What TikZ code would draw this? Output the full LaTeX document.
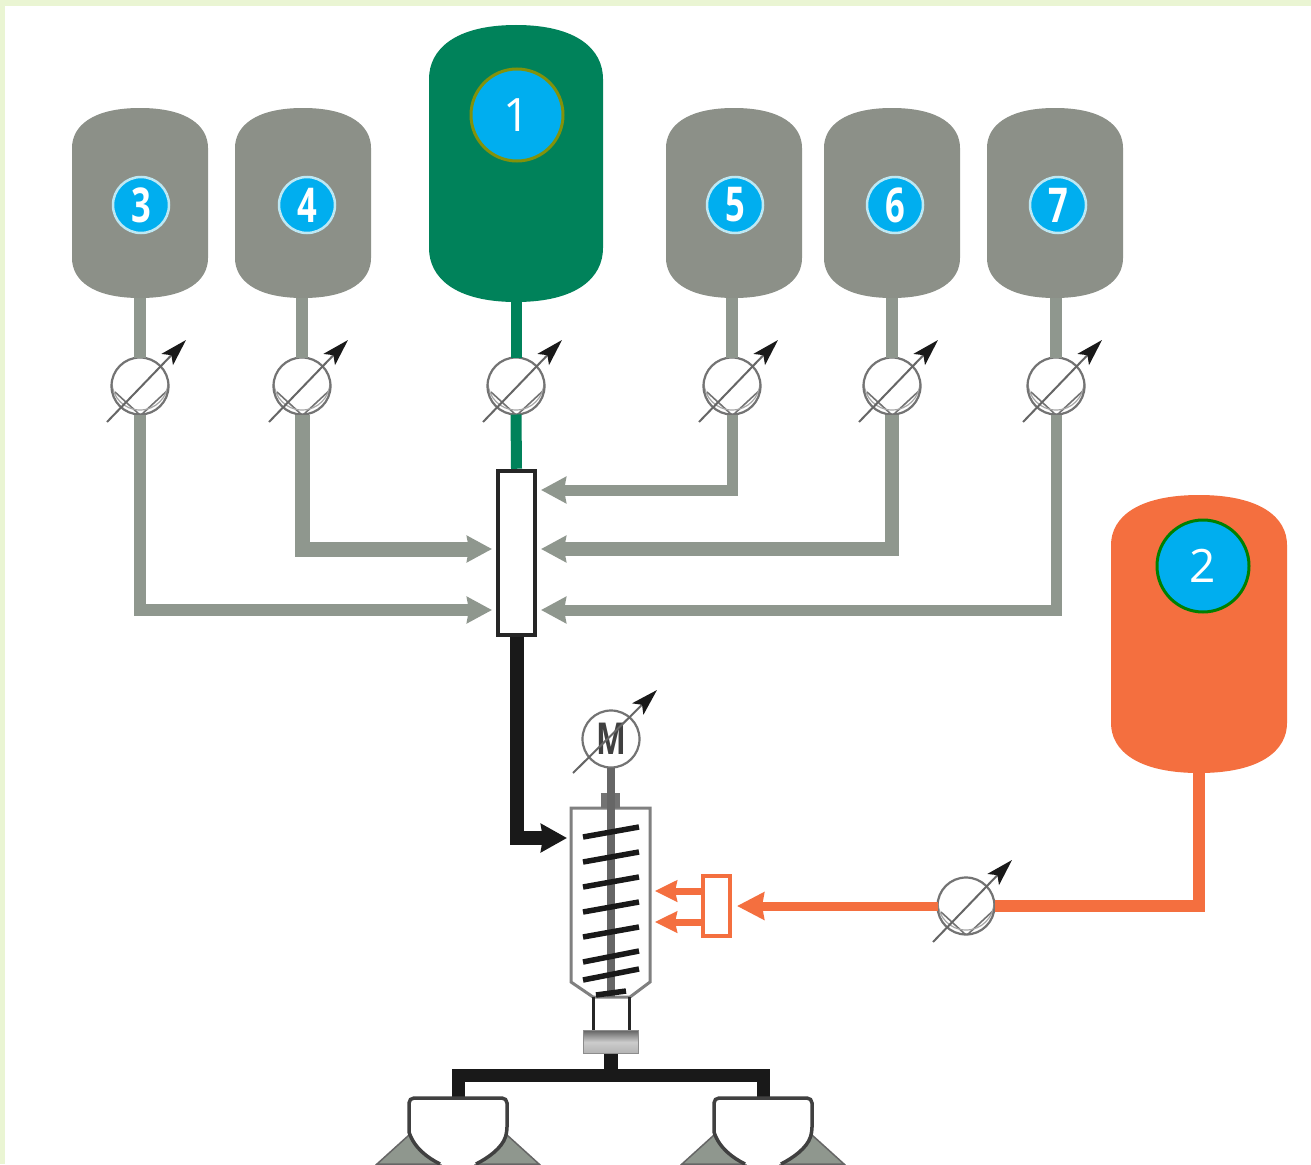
\documentclass[tikz,border=0pt]{standalone}
\usepackage{fontspec}
\setmainfont{Open Sans}
\usepackage{tikz}
\usetikzlibrary{arrows.meta,fit,positioning}
\definecolor{tankgray}{HTML}{8C9088}
\definecolor{pipegray}{HTML}{8F978E}
\definecolor{tankgreen}{HTML}{00825A}
\definecolor{tankorange}{HTML}{F46F3F}
\definecolor{badgeblue}{HTML}{00AEEF}
\definecolor{badgering}{HTML}{BDE8F4}
\definecolor{framegreen}{HTML}{EAF5D3}
\tikzset{
    %Define style for meters
    meter/.style={
           circle,
           draw=black!55, line width=2.2pt,
           fill=white,
           inner sep=0pt,
           outer sep=0pt,
           minimum size=57pt},
    valve/.style={
           meter,
           path picture={
             \draw[black!55, line width=1.6pt]
               ([shift={(1,29)}]path picture bounding box.center) -- ([shift={(29,3)}]path picture bounding box.center)
               ([shift={(-25,6)}]path picture bounding box.center) -- ([shift={(0,29)}]path picture bounding box.center);
             \draw[black!35, line width=1.2pt]
               ([shift={(0,-4)}]path picture bounding box.center) circle[radius=28];
           }},
    needle/.style={
           black!60, line width=2pt,
           -{Stealth[black!90,length=27pt,width=16pt,inset=6pt]}},
    % small badges on the grey tanks
    badge/.style={
           circle,
           draw=badgering, line width=2.5pt,
           fill=badgeblue,
           text=white,
           inner sep=0pt,
           minimum size=56pt,
           font=\fontsize{48}{48}\selectfont\bfseries},
    bigbadge/.style={
           circle,
           line width=3pt,
           fill=badgeblue,
           text=white,
           inner sep=0pt,
           minimum size=92pt,
           font=\fontsize{46}{46}\selectfont},
    % Define pipe styles
    pipe/.style={
           pipegray, line width=#1,
           -{Stealth[length=25pt,width=26pt,inset=2pt]}},
    riser/.style={line width=12pt},
    blade/.style={black!90, line width=5.5pt},
    collector/.style={
           rectangle,
           draw=black!85, line width=4.5pt,
           fill=white,
           inner sep=0pt,
           minimum width=37pt,
           minimum height=164pt},
    dose/.style={
           rectangle,
           draw=tankorange, line width=4pt,
           fill=white,
           inner sep=0pt,
           minimum width=27pt,
           minimum height=60pt}
}
%tank: name, centre x, top, bottom, half width, dome, colour
\newcommand{\tank}[7]{
  \fill[#7] (#2-#5,#3+#6) .. controls (#2-#5,#3+#6*0.45) and (#2-#5*0.7,#3) .. (#2,#3)
     .. controls (#2+#5*0.7,#3) and (#2+#5,#3+#6*0.45) .. (#2+#5,#3+#6)
     -- (#2+#5,#4-#6) .. controls (#2+#5,#4-#6*0.45) and (#2+#5*0.7,#4) .. (#2,#4)
     .. controls (#2-#5*0.7,#4) and (#2-#5,#4-#6*0.45) .. (#2-#5,#4-#6) -- cycle;
  \node[fit={(#2-#5,#3)(#2+#5,#4)},inner sep=0pt,outer sep=0pt](#1){};
}
%valve: name, x, y
\newcommand{\valvesign}[3]{
  \node[valve](#1) at (#2,#3){};
  \draw[needle] ([shift={(-33,36)}]#1.center) -- ([shift={(46,-46)}]#1.center);
}
\begin{document}
\begin{tikzpicture}[x=1pt,y=-1pt]
\useasboundingbox (0,0) rectangle (1311,1164);
\fill[framegreen] (0,0) rectangle (1311,1164);
\fill[white] (5,6) rectangle (1311,1164);
 %tanks
\foreach \n/\cx/\bx in {3/140/141,4/303/307,5/734/735,6/892/895,7/1055/1058}{
  \tank{tank\n}{\cx}{108}{298}{68}{40}{tankgray}
  \node[badge] (badge\n) at (\bx,205) {\scalebox{0.72}[1]{\n}};
}
\tank{tank1}{516}{25}{302}{87}{54}{tankgreen}
\tank{tank2}{1199}{495}{773}{88}{50}{tankorange}
\node[bigbadge,draw=olive!80!green] (badge1) at (517,115) {1};
\node[bigbadge,draw=green!50!black] (badge2) at (1203,566) {2};
 %meters
\foreach \n/\vx in {3/140,4/302,1/516,5/732,6/892,7/1056}{
  \valvesign{valve\n}{\vx}{386}
}
\valvesign{valve2}{966}{906}
\node[collector](mixer) at (516.5,553){};
\node[dose](dosing) at (716,906){};
 %free ends of the arrows
\coordinate (in3) at (492,610);
\coordinate (in4) at (492,549);
\coordinate (in5) at (541,490);
\coordinate (in6) at (541,549);
\coordinate (in7) at (541,610);
\coordinate (inscrew) at (567,838);
\coordinate (indose) at (737,906);
\coordinate (ina) at (655,891);
\coordinate (inb) at (655,922);
 %pipes
\foreach \n in {3,4,5,6,7}{
  \draw[pipegray,riser] (valve\n|-tank\n.south) -- (valve\n.north);
}
\draw[tankgreen,line width=11pt] (tank1.south) -- (valve1.north);
\draw[tankgreen,line width=11pt] (valve1.south) -- (mixer.north);
\draw[pipe=12pt] (valve3.south) |- (in3);
\draw[pipe=15pt] (valve4.south) |- (in4);
\draw[pipe=11pt] (valve5.south) |- (in5);
\draw[pipe=14pt] (valve6.south) |- (in6);
\draw[pipe=11pt] (valve7.south) |- (in7);
\draw[black!90,line width=14pt,-{Stealth[length=26pt,width=28pt,inset=2pt]}] (mixer.south) |- (inscrew);
\draw[tankorange,line width=12pt] (tank2.south) |- (valve2.east);
\draw[tankorange,line width=9pt,-{Stealth[length=27pt,width=27pt,inset=2pt]}] (valve2.west) -- (indose);
\draw[tankorange,line width=7pt,-{Stealth[length=22pt,width=21pt,inset=2pt]}] (dosing.west|-ina) -- (ina);
\draw[tankorange,line width=7pt,-{Stealth[length=22pt,width=21pt,inset=2pt]}] (dosing.west|-inb) -- (inb);
\node[dose] at (dosing){};
 %screw
\draw[black!50,line width=3pt,fill=white] (571,808) -- (650,808) -- (650,982) -- (630,997) -- (593,997) -- (571,982) -- cycle;
\fill[black!55] (601,793) rectangle (620,808);
\coordinate (shaftend) at (611,997);
\node[meter,font=\fontsize{44}{44}\selectfont\bfseries,text=black!75](motor) at (611,739){\scalebox{0.72}[1]{M}};
\draw[needle] ([shift={(-38,34)}]motor.center) -- ([shift={(46,-49)}]motor.center);
\draw[black!60,line width=8pt] (motor.south) -- (shaftend);
\foreach \ya/\yb in {837/827,862/852,887/877,912/902,937/927,962/951,980/969}{
  \draw[blade] (583,\ya) -- (639,\yb);
}
\draw[blade] (596,995) -- (626,991);
\draw[black!85,line width=3pt] (593,997) -- (593,1031) (629,997) -- (629,1031);
\node[rectangle,draw=black!45,line width=1.5pt,top color=black!60,bottom color=black!30,middle color=black!20,minimum width=55pt,minimum height=23pt,inner sep=0pt](coupler) at (611,1042){};
 %suction cups
\coordinate (cupa) at (458,1098);
\coordinate (cupb) at (763,1098);
\coordinate (barmid) at (611,1075);
\draw[black!90,line width=14pt] (coupler.south) -- (barmid);
\draw[black!90,line width=13pt,line join=miter] (cupa) |- (barmid) -| (cupb);
\foreach \cx in {458,763}{
  \fill[pipegray,draw=black!60,line width=1.5pt] (\cx-49,1135) -- (\cx-81,1164) -- (\cx-18,1164) -- cycle;
  \fill[pipegray,draw=black!60,line width=1.5pt] (\cx+49,1135) -- (\cx+81,1164) -- (\cx+18,1164) -- cycle;
  \fill[white] (\cx-49,1098) rectangle (\cx+49,1132);
  \fill[white] (\cx-49,1132) .. controls (\cx-44,1148) and (\cx-30,1158) .. (\cx-18,1164) -- (\cx+18,1164) .. controls (\cx+30,1158) and (\cx+44,1148) .. (\cx+49,1132) -- cycle;
  \draw[black!75,line width=3.5pt] (\cx-18,1164) .. controls (\cx-30,1158) and (\cx-44,1148) .. (\cx-49,1132)
     [rounded corners=5pt] -- (\cx-49,1098) -- (\cx+49,1098) -- (\cx+49,1132)
     [sharp corners] .. controls (\cx+44,1148) and (\cx+30,1158) .. (\cx+18,1164);
}
\end{tikzpicture}
\end{document}
